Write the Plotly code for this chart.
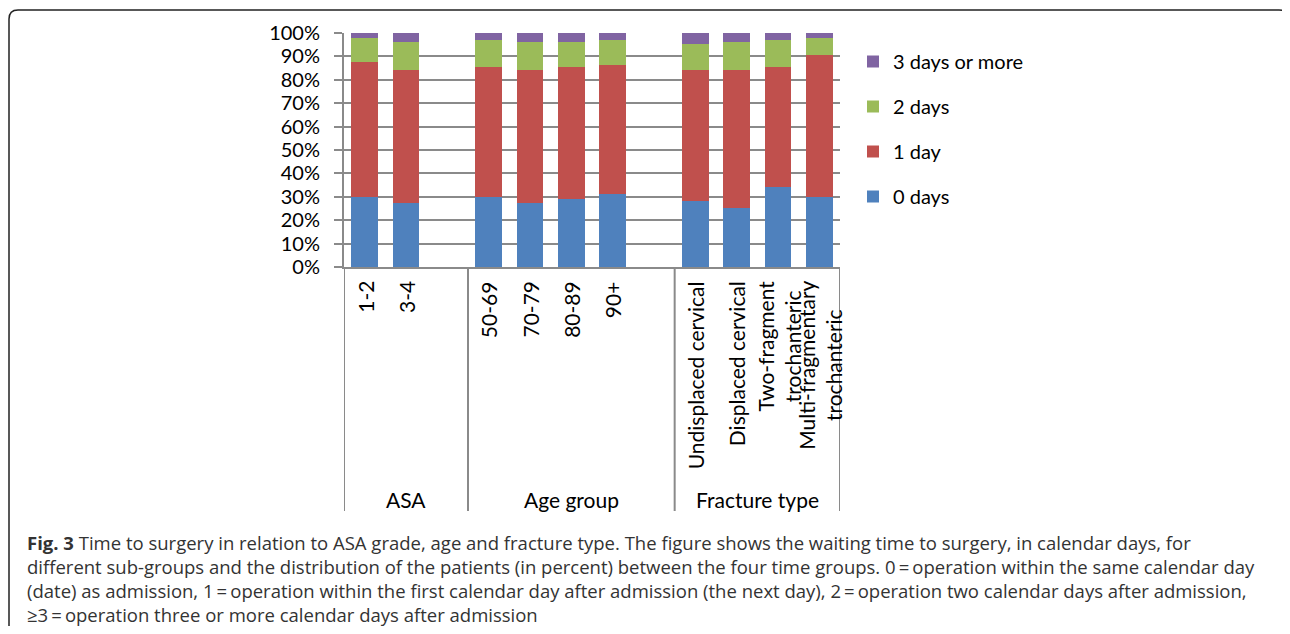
import plotly.graph_objects as go

# ---------------- data ----------------
group_names = ["ASA", "Age group", "Fracture type"]
group_members = [
    ["1-2", "3-4"],
    ["50-69", "70-79", "80-89", "90+"],
    ["Undisplaced cervical", "Displaced cervical", "Two-fragment<br>trochanteric",
     "Multi-fragmentary<br>trochanteric"],
]
series_names = ["0 days", "1 day", "2 days", "3 days or more"]
days0 = [30.0, 27.3, 30.0, 27.3, 29.1, 31.0, 28.3, 25.4, 34.1, 30.0]
days1 = [57.5, 57.1, 55.4, 57.1, 56.3, 55.5, 56.1, 59.0, 51.3, 60.4]
days2 = [10.5, 11.9, 11.7, 11.9, 10.9, 10.6, 10.7, 11.9, 11.7, 7.6]
days3 = [2.0, 3.7, 2.9, 3.7, 3.7, 2.9, 4.9, 3.7, 2.9, 2.0]
colors = ["#4F81BD", "#C0504D", "#9BBB59", "#8064A2"]
y_ticks = [0, 10, 20, 30, 40, 50, 60, 70, 80, 90, 100]
y_tick_text = [f"{v}%" for v in y_ticks]

caption_lines = [
    "<b>Fig. 3</b> Time to surgery in relation to ASA grade, age and fracture type. The figure shows the waiting time to surgery, in calendar days, for",
    "different sub-groups and the distribution of the patients (in percent) between the four time groups. 0\u2009=\u2009operation within the same calendar day",
    "(date) as admission, 1\u2009=\u2009operation within the first calendar day after admission (the next day), 2\u2009=\u2009operation two calendar days after admission,",
    "\u22653\u2009=\u2009operation three or more calendar days after admission",
]

# ---------------- layout helpers ----------------
# target coordinates are given in window pixels; the page body adds an 8px offset
OFF = 8
WIN_W, WIN_H = 1290, 634
W, H = WIN_W - 2 * OFF, WIN_H - 2 * OFF
L, R, T, B = 344, 840, 33, 267


def px(x):
    return (x - L) / (R - L)


def py(y):
    return (B - y) / (B - T)


# category positions: one empty slot after each group (except the last)
positions, labels, group_bounds = [], [], []
slot = 0
for gi, members in enumerate(group_members):
    start = slot
    for m in members:
        positions.append(slot)
        labels.append(m)
        slot += 1
    if gi < len(group_members) - 1:
        slot += 1
    group_bounds.append((start - 0.5, slot - 0.5))
n_slots = slot

series = [days0, days1, days2, days3]

fig = go.Figure()
n_series = len(series)
for i, (name, vals, col) in enumerate(zip(series_names, series, colors)):
    fig.add_trace(go.Bar(
        x=positions, y=vals, name=name, marker_color=col,
        marker_line_width=0, legendgroup=name, legendrank=n_series - i,
    ))

chart_font = "Lato, 'Open Sans', sans-serif"
grid_col = "#8a8a8a"

fig.update_layout(
    width=W, height=H,
    margin=dict(l=L - OFF, r=WIN_W - R - OFF, t=T - OFF, b=WIN_H - B - OFF),
    barmode="stack", bargap=0.35,
    plot_bgcolor="white", paper_bgcolor="white",
    font=dict(family=chart_font, size=19, color="black"),
    showlegend=True,
    legend=dict(
        traceorder="grouped", x=px(853), y=py(42), xanchor="left",
        yanchor="top", font=dict(family=chart_font, size=20, color="black"),
        tracegroupgap=16, bgcolor="rgba(0,0,0,0)",
    ),
    xaxis=dict(
        range=[-0.5, n_slots - 0.5], showticklabels=False, showgrid=False,
        zeroline=False, showline=True, linecolor=grid_col, linewidth=2, ticks="",
    ),
    yaxis=dict(
        range=[0, 100], tickmode="array", tickvals=y_ticks, ticktext=y_tick_text,
        showgrid=True, gridcolor=grid_col, gridwidth=1.5, zeroline=False,
        showline=True, linecolor=grid_col, linewidth=2, ticks="outside", ticklen=8,
        tickcolor=grid_col, tickwidth=2, ticklabelstandoff=10,
        tickfont=dict(family=chart_font, size=20, color="black"),
    ),
)

annotations = []
# category labels (rotated)
for pos, lab in zip(positions, labels):
    annotations.append(dict(
        x=pos, y=py(279), xref="x", yref="paper", text=lab, textangle=-90,
        showarrow=False, xanchor="center", yanchor="top", align="center",
        font=dict(family=chart_font, size=21, color="black"),
    ))
# group labels
for gname, (g0, g1) in zip(group_names, group_bounds):
    annotations.append(dict(
        x=(g0 + g1) / 2, y=py(499), xref="x", yref="paper", text=gname,
        showarrow=False, xanchor="center", yanchor="middle",
        font=dict(family=chart_font, size=21, color="black"),
    ))
# caption
cap_y = [542, 566, 590, 614]
for line, yy in zip(caption_lines, cap_y):
    annotations.append(dict(
        x=px(25), y=py(yy), xref="paper", yref="paper", text=line,
        showarrow=False, xanchor="left", yanchor="middle", align="left",
        font=dict(family="'Open Sans', sans-serif", size=18.5, color="#333333"),
    ))
fig.update_layout(annotations=annotations)

shapes = []
# group separator lines under the category axis
bounds = sorted(set([b for gb in group_bounds for b in gb]))
for b in bounds:
    shapes.append(dict(
        type="line", xref="x", yref="paper", x0=b, x1=b, y0=0, y1=py(511),
        line=dict(color=grid_col, width=2),
    ))
# outer frame with rounded top corners
x0, x1, yt, yb, r = px(9), px(1288), py(10), py(650), 9
rx, ry = r / (R - L), r / (B - T)
path = (f"M {x0},{yb} L {x0},{yt - ry} Q {x0},{yt} {x0 + rx},{yt} "
        f"L {x1 - rx},{yt} Q {x1},{yt} {x1},{yt - ry} L {x1},{yb}")
shapes.append(dict(type="path", xref="paper", yref="paper", path=path,
                   line=dict(color="#222222", width=1.5)))
fig.update_layout(shapes=shapes)

fig.write_html("out.html")
